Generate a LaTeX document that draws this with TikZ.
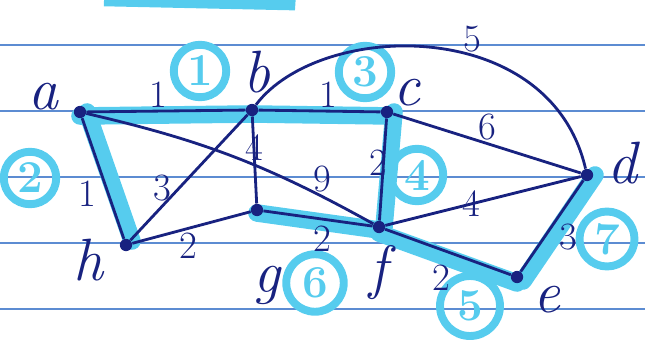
\documentclass[tikz,border=0pt]{standalone}
\usepackage{fontspec}
\usepackage{tikz}
\usetikzlibrary{calc,backgrounds}

\definecolor{ink}{RGB}{24,34,128}
\definecolor{marker}{RGB}{86,204,238}
\definecolor{ruling}{RGB}{92,140,210}

\begin{document}
\begin{tikzpicture}[
    x=0.02cm, y=-0.02cm,
    vertex/.style={circle, fill=ink, inner sep=0pt, minimum size=7pt},
    vname/.style={text=ink, inner sep=0pt, font=\fontsize{34}{34}\selectfont\itshape},
    weight/.style={text=ink, inner sep=1pt, font=\fontsize{22}{22}\selectfont},
    edge/.style={draw=ink, line width=1.6pt},
    marked/.style={draw=marker, line width=10pt, line cap=round},
    order/.style={circle, draw=marker, line width=4.5pt, text=marker, minimum size=1.05cm, inner sep=0pt, font=\fontsize{26}{26}\selectfont\bfseries}
]
\useasboundingbox (0,0) rectangle (645,348);
\clip (0,0) rectangle (645,348);

% vertices
\node[vertex] (a) at (80,112) {};
\node[vertex] (b) at (252,110) {};
\node[vertex] (c) at (387,112) {};
\node[vertex] (d) at (587,175) {};
\node[vertex] (e) at (517,277) {};
\node[vertex] (f) at (379,227) {};
\node[vertex] (g) at (257,210) {};
\node[vertex] (h) at (126,245) {};

\node[vname] (la) at (43,97) {a};
\node[vname] (lb) at (257,72) {b};
\node[vname] (lc) at (407,93) {c};
\node[vname] (ld) at (622,163) {d};
\node[vname] (le) at (547,300) {e};
\node[vname] (lf) at (378,273) {f};
\node[vname] (lg) at (267,285) {g};
\node[vname] (lh) at (88,260) {h};

% edges
\draw[edge] (a) -- node[weight, pos=0.45, above] (wab) {1} (b);
\draw[edge] (b) -- node[weight, pos=0.57, above] (wbc) {1} (c);
\draw[edge] (a) -- node[weight, pos=0.63, left=5pt] (wah) {1} (h);
\draw[edge] (h) -- node[weight, pos=0.33, above left=-3pt] (whb) {3} (b);
\draw[edge] (b) -- node[weight, pos=0.36] (wbg) {4} (g);
\draw[edge] (h) -- node[weight, pos=0.47, below=1pt] (whg) {2} (g);
\draw[edge] (a) to[bend left=8] node[weight, pos=0.83, above=1pt] (waf) {9} (f);
\draw[edge] (c) -- node[weight, pos=0.43, left=-4pt] (wcf) {2} (f);
\draw[edge] (c) -- node[weight, pos=0.5, above] (wcd) {6} (d);
\draw[edge] (f) -- node[weight, pos=0.44] (wfd) {4} (d);
\draw[edge] (f) -- node[weight, pos=0.45, below=7pt] (wfe) {2} (e);
\draw[edge] (e) -- node[weight, pos=0.38, right=7pt] (wed) {3} (d);
\draw[edge] (g) -- node[weight, pos=0.54, below=2pt] (wgf) {2} (f);
\draw[edge] (b) .. controls (320,20) and (550,15) .. node[weight, pos=0.6, above] (wbd) {5} (d);

\begin{pgfonlayer}{background}
% ruled paper
\foreach \ry in {45,111,177,243,309}
    \draw[ruling, line width=1.3pt] (0,\ry) -- (645,\ry);
\draw[marker, line width=6pt] (104,1) -- (290,5) -- (291,-10);
% spanning tree edges
\draw[marked] ($(a)+(0,4)$) -- ($(b)+(0,4)$);
\draw[marked] ($(b)+(0,4)$) -- ($(c)+(6,4)$);
\draw[marked] ($(a)+(7,0)$) -- ($(h)+(6,-4)$);
\draw[marked] ($(c)+(7,0)$) -- ($(f)+(5,0)$);
\draw[marked] ($(g)+(0,3)$) -- ($(f)+(0,3)$);
\draw[marked] ($(f)+(0,6)$) -- ($(e)+(0,6)$);
\draw[marked] ($(e)+(6,4)$) -- ($(d)+(8,0)$);
% order of selection
\node[order] (o1) at (200,71) {1};
\node[order] (o2) at (30,178) {2};
\node[order] (o3) at (365,72) {3};
\node[order] (o4) at (417,175) {4};
\node[order, minimum size=1.2cm] (o5) at (470,306) {5};
\node[order, minimum size=1.15cm] (o6) at (315,283) {6};
\node[order, minimum size=1.1cm] (o7) at (607,239) {7};
\end{pgfonlayer}
\end{tikzpicture}
\end{document}
